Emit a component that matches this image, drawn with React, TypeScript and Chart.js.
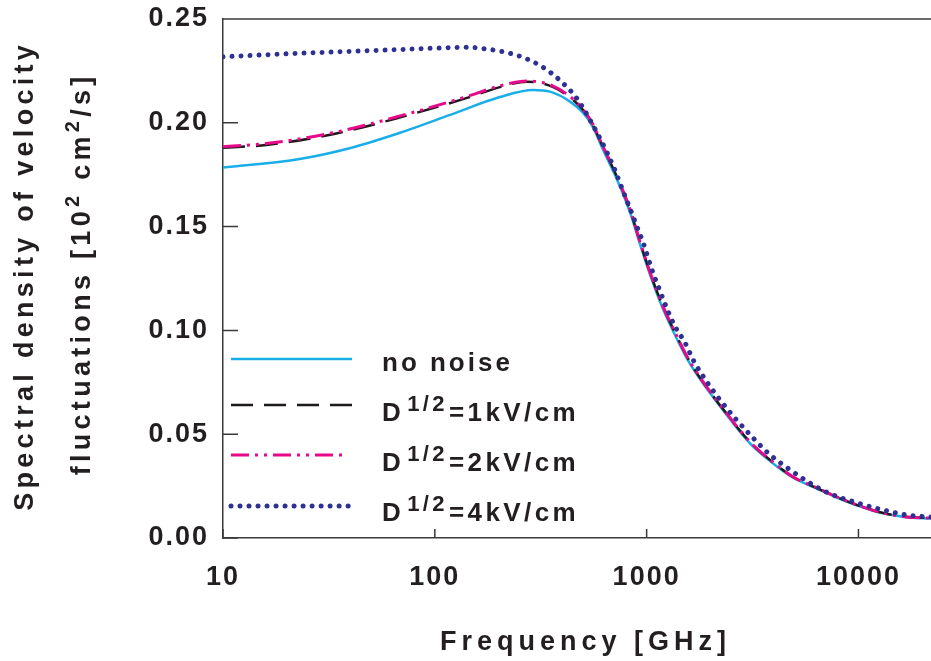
import React, { useEffect, useRef } from 'react';
import { Chart, registerables } from 'chart.js';

Chart.register(...registerables);

// ---------- data ----------
const X_TICKS = [10, 100, 1000, 10000];
const Y_TICKS = [0, 0.05, 0.1, 0.15, 0.2, 0.25];

const NO_NOISE_F = [10, 23, 40, 68, 118, 203, 291, 350, 435, 502, 560, 624, 726, 837, 934, 1040, 1198, 1395, 1555, 1790, 2220, 3083, 3834, 4925, 6390, 7950, 10200, 13100, 17000, 22000];
const NO_NOISE = [0.1785, 0.1826, 0.1879, 0.1951, 0.2038, 0.2124, 0.2158, 0.2150, 0.2102, 0.2047, 0.1975, 0.1868, 0.1725, 0.1565, 0.1410, 0.1265, 0.1100, 0.0955, 0.0862, 0.0765, 0.0635, 0.0455, 0.0370, 0.0290, 0.0237, 0.0194, 0.0152, 0.0119, 0.0100, 0.0094];

const D1_F = [10, 16, 33, 68, 142, 203, 273, 362, 450, 502, 553, 624, 726, 837, 934, 1040, 1198, 1395, 1555, 1790, 2220, 3083, 3834, 4925, 6390, 7950, 10200, 13100, 17000, 22000];
const D1 = [0.1880, 0.1893, 0.1945, 0.2025, 0.2120, 0.2172, 0.2198, 0.2172, 0.2110, 0.2060, 0.1995, 0.1880, 0.1737, 0.1578, 0.1420, 0.1276, 0.1112, 0.0967, 0.0871, 0.0770, 0.0640, 0.0461, 0.0375, 0.0293, 0.0240, 0.0196, 0.0153, 0.0120, 0.0101, 0.0096];

const D2_F = [10, 16, 33, 68, 142, 203, 273, 362, 450, 502, 553, 624, 726, 837, 934, 1040, 1198, 1395, 1555, 1790, 2220, 3083, 3834, 4925, 6390, 7950, 10200, 13100, 17000, 22000];
const D2 = [0.1885, 0.1900, 0.1952, 0.2032, 0.2127, 0.2178, 0.2201, 0.2177, 0.2114, 0.2063, 0.1999, 0.1883, 0.1739, 0.1580, 0.1421, 0.1277, 0.1113, 0.0968, 0.0872, 0.0772, 0.0642, 0.0462, 0.0376, 0.0294, 0.0241, 0.0197, 0.0154, 0.0120, 0.0101, 0.0096];

const D4_F = [10, 23, 48, 98, 142, 177, 215, 261, 321, 391, 470, 560, 651, 711, 767, 828, 894, 964, 1063, 1147, 1238, 1350, 1521, 1660, 1790, 2220, 2600, 3155, 3834, 4765, 5794, 7206, 9890, 13100, 17000, 22000];
const D4 = [0.2318, 0.2335, 0.2347, 0.2359, 0.2364, 0.2355, 0.2340, 0.2315, 0.2270, 0.2203, 0.2115, 0.1985, 0.1856, 0.1768, 0.1681, 0.1596, 0.1508, 0.1421, 0.1288, 0.1199, 0.1113, 0.1026, 0.0939, 0.0857, 0.0800, 0.0665, 0.0580, 0.0486, 0.0400, 0.0328, 0.0270, 0.0217, 0.0169, 0.0135, 0.0111, 0.0101];

const SERIES_LABELS = ['no noise', '=1kV/cm', '=2kV/cm', '=4kV/cm'];

// ---------- style ----------
const FONT = "'Liberation Sans', Arial, Helvetica, sans-serif";
const TEXT = '#231f20';
const AXIS = '#3a3a3a';
const CYAN = '#1aaee8';
const BLACK = '#1e1a1b';
const PINK = '#e8088a';
const NAVY = '#2e3192';

type Part = { t: string; sup?: boolean; gap?: number };

function drawRich(ctx: CanvasRenderingContext2D, parts: Part[], x: number, y: number, size: number, supSize: number, rise: number, spacing: number, align: 'left' | 'center') {
  ctx.letterSpacing = spacing + 'px';
  ctx.textBaseline = 'alphabetic';
  ctx.textAlign = 'left';
  const widths = parts.map((p) => {
    ctx.font = `bold ${p.sup ? supSize : size}px ${FONT}`;
    return ctx.measureText(p.t).width + (p.gap || 0);
  });
  const total = widths.reduce((a, b) => a + b, 0) - spacing;
  let cx = align === 'center' ? x - total / 2 : x;
  parts.forEach((p, i) => {
    ctx.font = `bold ${p.sup ? supSize : size}px ${FONT}`;
    ctx.fillText(p.t, cx, p.sup ? y - rise : y);
    cx += widths[i];
  });
}

const decorPlugin = {
  id: 'decor',
  beforeUpdate(chart: any) {
    chart.ctx.letterSpacing = '2px';
  },
  beforeDraw(chart: any) {
    chart.ctx.letterSpacing = '2px';
  },
  afterDraw(chart: any) {
    const ctx: CanvasRenderingContext2D = chart.ctx;
    const { left, right, top, bottom } = chart.chartArea;
    const xs = chart.scales.x;
    const ys = chart.scales.y;
    ctx.save();
    // frame top
    ctx.strokeStyle = AXIS;
    ctx.lineWidth = 1.5;
    ctx.setLineDash([]);
    ctx.beginPath();
    ctx.moveTo(left, top);
    ctx.lineTo(right, top);
    // inward ticks
    Y_TICKS.forEach((v) => {
      const py = ys.getPixelForValue(v);
      ctx.moveTo(left, py);
      ctx.lineTo(left + 15, py);
    });
    X_TICKS.forEach((v) => {
      const px = xs.getPixelForValue(v);
      ctx.moveTo(px, bottom);
      ctx.lineTo(px, bottom - 9);
    });
    ctx.stroke();

    // legend
    const lineYs = [359, 405, 455, 506];
    const textYs = [371, 421, 471, 521];
    const dsets = chart.data.datasets;
    dsets.forEach((ds: any, i: number) => {
      ctx.save();
      ctx.strokeStyle = ds.borderColor;
      ctx.lineWidth = ds.borderWidth;
      ctx.lineCap = ds.borderCapStyle || 'butt';
      ctx.setLineDash(ds.borderDash || []);
      ctx.beginPath();
      ctx.moveTo(231, lineYs[i]);
      ctx.lineTo(i === 2 ? 346 : 352, lineYs[i]);
      ctx.stroke();
      ctx.restore();
      ctx.fillStyle = TEXT;
      const parts: Part[] = i === 0 ? [{ t: SERIES_LABELS[0] }] : [{ t: 'D', gap: 3 }, { t: '1/2', sup: true, gap: 1 }, { t: SERIES_LABELS[i] }];
      drawRich(ctx, parts, 382, textYs[i], 26, 22, 10, i === 0 ? 3 : 3.4, 'left');
    });

    // x title
    ctx.fillStyle = TEXT;
    drawRich(ctx, [{ t: 'Frequency [GHz]' }], (left + right) / 2 + 6, 650, 27, 20, 0, 5, 'center');

    // y title (rotated)
    ctx.save();
    ctx.translate(33, 278);
    ctx.rotate(-Math.PI / 2);
    drawRich(ctx, [{ t: 'Spectral density of velocity' }], 0, 0, 27, 20, 0, 4.3, 'center');
    ctx.restore();
    ctx.save();
    ctx.translate(90, 276);
    ctx.rotate(-Math.PI / 2);
    drawRich(ctx, [{ t: 'fluctuations [10' }, { t: '2', sup: true }, { t: ' cm' }, { t: '2', sup: true }, { t: '/s]' }], 0, 0, 27, 20, 11, 4.3, 'center');
    ctx.restore();

    ctx.restore();
    ctx.letterSpacing = '2px';
  },
};

function pts(f: number[], v: number[]) {
  return f.map((x, i) => ({ x, y: v[i] }));
}

export default function App() {
  const ref = useRef<HTMLCanvasElement>(null);
  useEffect(() => {
    if (!ref.current) return;
    const tickFont = { family: FONT, size: 27, weight: 'bold' as const };
    const chart = new Chart(ref.current, {
      type: 'line',
      data: {
        datasets: [
          { label: SERIES_LABELS[0], data: pts(NO_NOISE_F, NO_NOISE), borderColor: CYAN, borderWidth: 2.5, order: 3 },
          { label: SERIES_LABELS[1], data: pts(D1_F, D1), borderColor: BLACK, borderWidth: 2.5, borderDash: [22, 11], order: 2 },
          { label: SERIES_LABELS[2], data: pts(D2_F, D2), borderColor: PINK, borderWidth: 3, borderDash: [18, 6, 3, 6, 3, 6], order: 1 },
          { label: SERIES_LABELS[3], data: pts(D4_F, D4), borderColor: NAVY, borderWidth: 5, borderDash: [0.01, 9], borderCapStyle: 'round', order: 0 },
        ] as any,
      },
      options: {
        responsive: false,
        animation: false,
        devicePixelRatio: 1,
        layout: { padding: { top: 19, right: 0, left: 0, bottom: 0 } },
        elements: { point: { radius: 0, hoverRadius: 0 }, line: { cubicInterpolationMode: 'monotone', fill: false } },
        plugins: { legend: { display: false }, tooltip: { enabled: false } },
        scales: {
          x: {
            type: 'logarithmic',
            min: 10,
            max: 22000,
            afterBuildTicks: (s: any) => {
              s.ticks = X_TICKS.map((v) => ({ value: v }));
            },
            afterFit: (s: any) => {
              s.height = 123;
              s.paddingLeft = 0;
              s.paddingRight = 0;
            },
            grid: { display: false, drawTicks: false },
            border: { display: true, color: AXIS, width: 1.5 },
            ticks: {
              font: tickFont,
              color: TEXT,
              padding: 23,
              maxRotation: 0,
              autoSkip: false,
              callback: (v: any) => String(v),
            },
          },
          y: {
            type: 'linear',
            min: 0,
            max: 0.25,
            afterBuildTicks: (s: any) => {
              s.ticks = Y_TICKS.map((v) => ({ value: v }));
            },
            afterFit: (s: any) => {
              s.width = 223;
              s.paddingTop = 0;
              s.paddingBottom = 0;
            },
            grid: { display: false, drawTicks: false },
            border: { display: true, color: AXIS, width: 1.5 },
            ticks: {
              font: tickFont,
              color: TEXT,
              padding: 14,
              callback: (v: any) => Number(v).toFixed(2),
            },
          },
        },
      } as any,
      plugins: [decorPlugin],
    });
    return () => chart.destroy();
  }, []);
  return (
    <div style={{ position: 'fixed', left: 0, top: 0, width: 931, height: 661, background: '#fff' }}>
      <canvas ref={ref} width={931} height={661} style={{ width: 931, height: 661, display: 'block' }} />
    </div>
  );
}
